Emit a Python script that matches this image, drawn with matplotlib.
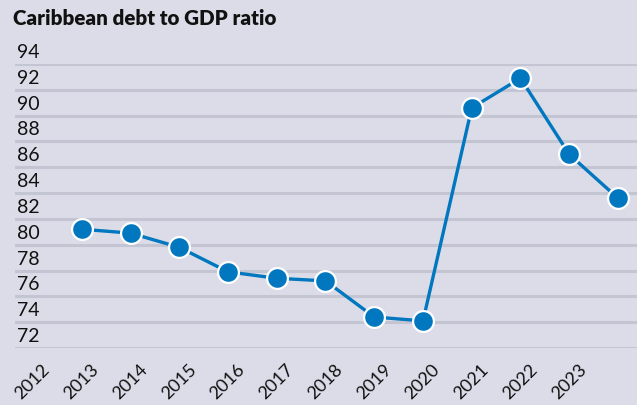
import matplotlib.pyplot as plt
import matplotlib.transforms as mtransforms

years = ['2012', '2013', '2014', '2015', '2016', '2017',
         '2018', '2019', '2020', '2021', '2022', '2023']
ratio = [81.2, 80.9, 79.8, 77.9, 77.4, 77.2, 74.4, 74.1, 90.6, 92.9, 87.0, 83.6]
yticks = [72, 74, 76, 78, 80, 82, 84, 86, 88, 90, 92, 94]

bg = '#dcdce8'
grid = '#c3c5d3'
blue = '#0077be'

plt.rcParams['font.family'] = ['Lato', 'DejaVu Sans']

fig = plt.figure(figsize=(6.37, 4.06), dpi=100, facecolor=bg)
ax = fig.add_axes([0.0235, 0.1404, 0.9765, 0.6995])
ax.set_facecolor(bg)

xs = list(range(len(years)))
for v in yticks:
    ax.axhline(v, color=grid, linewidth=2.2, zorder=1)
    off = mtransforms.offset_copy(ax.get_yaxis_transform(), fig=fig, x=2, y=4, units='dots')
    ax.text(0, v, str(v), transform=off, ha='left', va='bottom',
            fontsize=14, color='#111111', clip_on=False)

ax.plot(xs, ratio, color=blue, linewidth=2.4, marker='o', markersize=15,
        markerfacecolor=blue, markeredgecolor='white', markeredgewidth=1.6,
        zorder=3, clip_on=False)

ax.set_xlim(-1.37, 11.39)
ax.set_ylim(72, 94)
ax.set_yticks([])
# year labels sit a little left of their points, as in the original
ax.set_xticks([x - 0.82 for x in xs])
ax.set_xticklabels(years, rotation=45, ha='right', va='top', rotation_mode='anchor',
                   fontsize=13, color='#111111')
ax.tick_params(axis='x', length=0, pad=9)
for s in ax.spines.values():
    s.set_visible(False)

fig.text(13 / 637, 1 - 9 / 406, 'Caribbean debt to GDP ratio', ha='left', va='top',
         fontsize=14.8, fontweight='heavy', color='#111111')

fig.savefig('out.png', dpi=100, facecolor=bg)
